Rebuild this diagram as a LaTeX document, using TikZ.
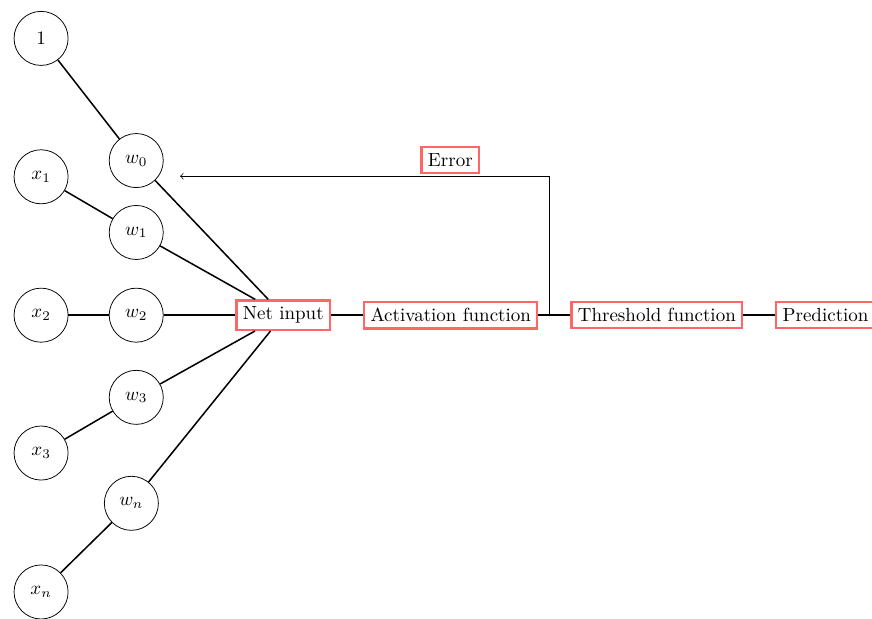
\documentclass[tikz,border=0pt]{standalone}
\usetikzlibrary{positioning}
\begin{document}
\begin{tikzpicture}[node distance={0.59cm}, thick,
  unit/.style={circle, draw, thin, minimum size=1cm},
  func/.style={rectangle, draw=red!60, very thick}]
\useasboundingbox (-0.76,-5.62) rectangle (15.37,5.83);

% inputs
\node[unit] (1) at (0,5.12) {$1$};
\node[unit] (x1) at (0,2.56) {$x_1$};
\node[unit] (x2) at (0,0) {$x_2$};
\node[unit] (x3) at (0,-2.55) {$x_3$};
\node[unit] (xn) at (0,-5.12) {$x_n$};

% weights
\node[unit] (w0) at (1.76,2.86) {$w_0$};
\node[unit] (w1) at (1.76,1.53) {$w_1$};
\node[unit] (w2) at (1.76,0) {$w_2$};
\node[unit] (w3) at (1.76,-1.52) {$w_3$};
\node[unit] (wn) at (1.67,-3.48) {$w_n$};

% chain
\node[func] (net) at (4.48,0) {Net input};
\node[func] (act) [right=of net] {Activation function};
\node[func] (thr) [right=of act] {Threshold function};
\node[func] (pred) [right=of thr] {Prediction};
\node[func] (err) at (7.57,2.87) {Error};

\coordinate (split) at (9.40,0);
\coordinate (fb) at (2.57,2.57);

\draw (1) to (w0);
\draw (x1) to (w1);
\draw (x2) to (w2);
\draw (x3) to (w3);
\draw (xn) to (wn);
\draw (w0) to (net);
\draw (w1) to (net);
\draw (w2) to (net);
\draw (w3) to (net);
\draw (wn) to (net);
\draw (net) to (act);
\draw (act) to (thr);
\draw (thr) to (pred);
\draw[thin, ->] (split) |- (fb);
\end{tikzpicture}
\end{document}
